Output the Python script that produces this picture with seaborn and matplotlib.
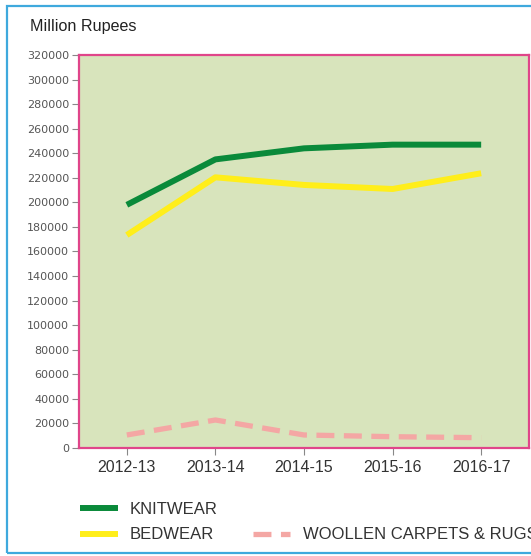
import matplotlib
matplotlib.use("Agg")
import matplotlib.pyplot as plt
import seaborn as sns
import pandas as pd
from matplotlib.lines import Line2D
from matplotlib.patches import Rectangle

years = ["2012-13", "2013-14", "2014-15", "2015-16", "2016-17"]
knitwear = [198000, 235000, 244000, 247000, 247000]
bedwear = [173400, 220400, 214200, 210900, 223700]
woollen = [10600, 22800, 10600, 9200, 8400]
y_ticks = list(range(0, 320001, 20000))

sns.set_style("white")
plt.rcParams['font.family'] = ['Liberation Sans', 'DejaVu Sans']

W, H = 531, 556
fig = plt.figure(figsize=(W / 100, H / 100), dpi=100)
ax = fig.add_axes([79 / W, 1 - 448 / H, (529 - 79) / W, (448 - 55) / H])
ax.set_facecolor("#d8e4bc")

green = "#0a8a3a"
yellow = "#ffee1a"
pink = "#f4a7a4"

sns.lineplot(x=years, y=knitwear, ax=ax, color=green, linewidth=4.3,
             solid_capstyle="butt", label="KNITWEAR")
sns.lineplot(x=years, y=bedwear, ax=ax, color=yellow, linewidth=4.3,
             solid_capstyle="butt", label="BEDWEAR")
sns.lineplot(x=years, y=woollen, ax=ax, color=pink, linewidth=3.8,
             dash_capstyle="butt", label="WOOLLEN CARPETS & RUGS")
ax.lines[-1].set_linestyle((0, (3.4, 1.8)))

ax.set_xlim(-0.54, 4.54)
ax.set_ylim(0, 320000)
ax.set_yticks(y_ticks)
ax.set_yticklabels([str(v) for v in y_ticks], fontsize=8, color="#555555",
                   family=["DejaVu Sans"])
ax.tick_params(axis="y", length=5, width=0.8, color="#888888", pad=2, left=True)
ax.tick_params(axis="x", length=5, width=0.8, color="#888888", pad=4, bottom=True,
               labelsize=11.5, labelcolor="#333333")
ax.set_xlabel("")
ax.set_ylabel("")
for s in ax.spines.values():
    s.set_color("#e0458a")
    s.set_linewidth(1.6)
    s.set_visible(True)

ax.get_legend().remove()
lines = ax.lines
blank = Line2D([], [], color="none")
fig.legend([lines[0], lines[1], blank, lines[2]],
           ["KNITWEAR", "BEDWEAR", "", "WOOLLEN CARPETS & RUGS"],
           ncol=2, loc="upper left", bbox_to_anchor=(80 / W, 1 - 502 / H),
           frameon=False, fontsize=12, handlelength=2.25, handletextpad=0.75,
           columnspacing=2.1, labelspacing=0.62, borderpad=0, borderaxespad=0,
           labelcolor="#333333")

fig.text(30 / W, 1 - 27 / H, "Million Rupees", fontsize=11.6, color="#222222",
         va="center", ha="left")

fig.patches.append(Rectangle((7 / W, 1 - 553 / H), 1.1, (553 - 6) / H,
                             transform=fig.transFigure, fill=False,
                             edgecolor="#3fa9dd", linewidth=1.6, clip_on=False))

fig.savefig("out.png", dpi=100)
